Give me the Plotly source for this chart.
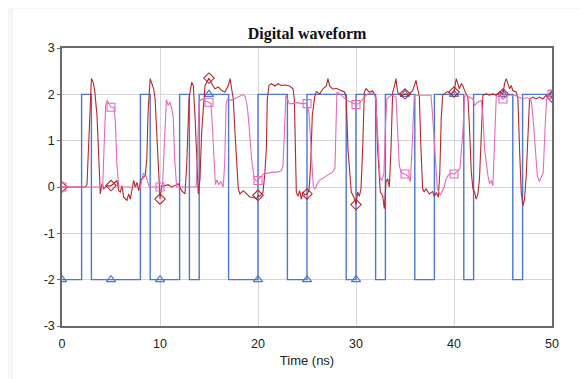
import numpy as np
import plotly.graph_objects as go

# ---------------- data ----------------
# Input digital signal: edge times (ns) and level after each edge
blue_t = [0, 2, 3, 8, 9, 12, 13, 14, 17, 20, 23, 25, 29, 30, 32, 33, 36, 38, 41, 42, 46, 47, 50]
blue_v = [-2, 2, -2, 2, -2, 2, -2, 2, -2, 2, -2, 2, -2, 2, -2, 2, -2, 2, -2, 2, -2, 2, 2]

# Near-end analog waveform (dark red)
red_t = [0, 2.4, 2.55, 2.7, 2.85, 3.0, 3.15, 3.25, 3.33, 3.57, 3.74, 3.91, 4.08, 4.25, 4.59, 4.93,
         5.27, 5.61, 5.78, 5.95, 6.12, 6.29, 6.63, 6.8, 6.97, 7.14, 7.31, 7.48, 7.65, 7.82, 7.99,
         8.16, 8.5, 8.65, 8.8, 9.0, 9.18, 9.35, 9.5, 9.69, 9.86, 10.0, 10.17, 10.51, 10.85, 11.19,
         11.53, 11.87, 12.21, 12.55, 12.72, 12.96, 13.23, 13.4, 13.57, 13.74, 13.91, 14.08, 14.25,
         14.59, 15.0, 15.27, 15.61, 15.95, 16.29, 16.63, 16.8, 16.97, 17.14, 17.31, 17.48, 17.65,
         17.82, 17.99, 18.16, 18.5, 18.84, 19.18, 19.52, 19.86, 20.0, 20.2, 20.51, 20.7, 20.85,
         20.95, 21.12, 21.36, 21.7, 22.04, 22.38, 22.72, 23.23, 23.57, 23.71, 23.81, 23.91, 24.08,
         24.25, 24.42, 24.59, 24.76, 25.0, 25.2, 25.37, 25.54, 25.78, 25.95, 26.29, 26.63, 26.97,
         27.14, 27.31, 27.65, 27.99, 28.5, 28.84, 29.01, 29.18, 29.52, 29.86, 30.0, 30.17, 30.34,
         30.51, 30.68, 30.85, 31.02, 31.36, 31.7, 31.87, 32.04, 32.21, 32.48, 32.72, 32.89, 33.06,
         33.23, 33.4, 33.57, 33.74, 33.91, 34.08, 34.25, 34.59, 35.0, 35.27, 35.78, 36.12, 36.29,
         36.46, 36.63, 36.8, 36.97, 37.14, 37.48, 37.82, 38.0, 38.2, 38.4, 38.55, 38.7, 38.85,
         39.01, 39.35, 39.69, 40.0, 40.23, 40.4, 40.55, 40.75, 40.9, 41.08, 41.25, 41.42, 41.6,
         41.76, 41.93, 42.1, 42.27, 42.44, 42.6, 42.78, 42.95, 43.29, 43.63, 43.97, 44.31, 44.65,
         45.0, 45.16, 45.33, 45.5, 45.67, 45.84, 46.0, 46.35, 46.52, 46.69, 46.86, 47.03, 47.2,
         47.37, 47.54, 47.71, 48.05, 48.39, 48.73, 49.07, 49.4, 49.74, 50.0]
red_v = [0, 0, 0.05, 0.9, 1.9, 2.34, 2.28, 2.15, 2.1, 1.54, 0.61, -0.15, 0.07, -0.04, 0.03, 0.02,
         0.07, 0.14, -0.08, -0.11, 0.03, -0.22, -0.29, -0.15, -0.26, -0.04, 0.14, 0.0, 0.1, -0.08, 0.1,
         0.18, 0.25, 0.6, 1.7, 2.34, 2.23, 2.12, 1.9, 1.18, 0.25, -0.26, 0.03, 0.03, 0.05, 0.0,
         0.03, 0.07, -0.08, -0.15, 0.46, 1.9, 2.26, 2.19, 1.54, 0.46, -0.15, 0.18, 1.18,
         2.19, 2.35, 2.23, 2.12, 2.16, 2.08, 2.05, 2.12, 2.19, 2.34, 2.12, 1.9, 1.18,
         0.46, -0.04, -0.15, -0.08, -0.15, -0.22, -0.22, -0.26, -0.18, -0.2, -0.11, 0.3, 0.82,
         1.9, 2.19, 2.23, 2.18, 2.23, 2.19, 2.2, 2.18, 2.12, 1.9, 0.82, -0.11, -0.2,
         -0.08, -0.26, -0.1, -0.17, -0.15, -0.08, 0.46, 1.54, 1.94, 2.06, 2.01, 2.12, 2.18,
         2.34, 2.18, 2.11, 2.13, 2.08, 2.05, 1.9, 0.82, -0.11, -0.26, -0.38, -0.11, -0.2,
         -0.04, 0.82, 2.05, 2.12, 2.05, 2.08, 2.01, 1.9, 0.82, -0.11, -0.18, -0.47, 0.1,
         0.18, 0.0, 0.82, 2.05, 2.16, 2.34, 2.05, 1.96, 2.01, 1.98, 2.08, 2.3, 2.12,
         1.96, 0.82, -0.04, -0.11, -0.04, -0.15, -0.1, -0.2, -0.12, -0.22, 0.3, 1.5, 1.98,
         2.01, 2.06, 2.01, 2.05, 2.34, 2.19, 2.12, 2.23, 2.19, 2.08, 2.01, 1.93, 1.18,
         0.33, -0.04, -0.11, -0.26, -0.15, 0.18, 1.18, 1.98, 2.01, 1.98, 2.01, 1.98, 2.05,
         2.01, 2.23, 2.34, 2.23, 2.12, 2.19, 2.08, 2.05, 1.9, 0.82, -0.11, -0.4, -0.26,
         0.25, 1.18, 1.9, 1.94, 1.9, 1.94, 1.9, 1.98, 1.9, 1.94]

# Far-end analog waveform (pink)
pink_t = [0, 4.15, 4.3, 4.45, 4.6, 4.8, 5.0, 5.3, 5.45, 5.6, 5.8, 8.0, 8.3, 8.55, 8.9, 10.25, 10.45,
          10.65, 10.85, 11.0, 11.2, 11.35, 11.5, 11.7, 13.7, 13.85, 14.0, 14.3, 14.6, 15.0, 15.2,
          15.35, 15.5, 15.65, 15.8, 16.0, 16.2, 16.45, 16.6, 16.75, 16.9, 17.2, 17.6, 17.9, 18.2,
          18.5, 18.7, 18.9, 19.1, 19.35, 19.6, 19.8, 20.0, 20.2, 20.5, 21.0, 21.5, 22.0, 22.35,
          22.55, 22.7, 22.85, 23.0, 23.2, 23.5, 24.0, 24.5, 25.0, 25.2, 25.35, 25.5, 25.65, 25.8,
          26.0, 26.3, 26.7, 27.2, 27.6, 27.85, 27.95, 28.05, 28.4, 28.7, 29.0, 29.5, 30.0, 30.3,
          30.7, 31.0, 31.3, 31.7, 32.0, 32.15, 32.3, 32.45, 32.65, 32.85, 33.0, 33.15, 33.4,
          33.75, 34.08, 34.25, 34.42, 34.6, 35.0, 35.2, 35.4, 35.55, 35.75, 35.95, 36.3, 36.8,
          37.3, 37.65, 37.82, 38.1, 38.3, 38.6, 39.0, 39.2, 39.4, 39.7, 40.0, 40.25, 40.6, 40.9,
          41.08, 41.25, 41.6, 41.93, 42.1, 42.44, 42.78, 42.95, 43.12, 43.29, 43.46, 43.63, 43.8,
          43.97, 44.14, 44.31, 44.65, 45.0, 45.5, 46.2, 46.6, 47.0, 47.5, 47.9, 48.1, 48.3, 48.5,
          48.7, 48.9, 49.1, 49.3, 49.45, 49.7, 50.0]
pink_v = [0, 0, 0.9, 1.75, 1.87, 1.8, 1.72, 1.72, 1.4, 0.5, 0, 0, 0.3, 0.25, 0, 0, 1.0,
          1.88, 1.76, 1.83, 1.7, 1.5, 0.6, 0, 0, 1.0, 1.85, 1.9, 1.85, 1.83, 1.8,
          1.3, 0.5, 0.05, 0.15, 0.05, 0.12, 0.0, 0.5, 1.8, 1.9, 1.87, 1.9, 1.93, 1.97,
          2.0, 1.95, 1.75, 1.3, 0.6, 0.2, 0.13, 0.14, 0.2, 0.27, 0.3, 0.32, 0.32, 0.35,
          0.45, 1.2, 1.98, 1.9, 1.8, 1.8, 1.82, 1.8, 1.8, 1.6, 1.0, 0.3, 0.0, -0.05,
          0.05, 0.15, 0.2, 0.28, 0.32, 0.4, 1.5, 2.05, 2.0, 1.95, 1.88, 1.83, 1.78, 1.8,
          1.9, 1.97, 2.02, 2.03, 1.95, 1.4, 0.6, 0.2, 0.14, 0.3, 1.3, 1.9, 1.96,
          1.98, 1.94, 1.18, 0.46, 0.32, 0.28, 0.25, 0.2, 0.12, 1.0, 1.98, 1.98, 1.98,
          1.98, 1.98, 1.54, 0.5, -0.04, -0.18, 0.0, 0.18, 0.25, 0.3, 0.28, 0.32, 0.39, 1.18,
          1.94, 1.98, 1.94, 1.9, 1.76, 1.83, 1.87, 1.54, 0.82, 0.46, 0.25, 0.07, 0.14,
          0.03, 1.18, 1.94, 1.98, 1.9, 1.98, 1.98, 1.94, 1.9, 1.93, 1.85, 1.4, 0.7, 0.25,
          0.12, 0.2, 0.3, 1.3, 1.9, 1.95, 2.0]

marker_times = [0, 5, 10, 15, 20, 25, 30, 35, 40, 45, 50]
x_ticks = [0, 10, 20, 30, 40, 50]
y_ticks = [-3, -2, -1, 0, 1, 2, 3]
y_tick_labels = ["-3", "-2", "-1", "0", "1", "2", "3"]

# ---------------- derived marker positions ----------------
bt = np.array(blue_t, dtype=float)
bv = np.array(blue_v, dtype=float)


def blue_level(t):
    # level of the segment ending at t (left-continuous)
    idx = np.searchsorted(bt, t, side="left") - 1
    idx = max(idx, 0)
    return bv[idx]


blue_mk = [blue_level(t) for t in marker_times]
red_mk = list(np.interp(marker_times, red_t, red_v))
pink_mk = list(np.interp(marker_times, pink_t, pink_v))

BLUE = "#4d78cc"
RED = "#b3282d"
PINK = "#e56bb8"

fig = go.Figure()
fig.add_trace(go.Scatter(x=blue_t, y=blue_v, mode="lines", line=dict(color=BLUE, width=1.4, shape="hv"),
                         hoverinfo="skip", showlegend=False))
fig.add_trace(go.Scatter(x=marker_times, y=blue_mk, mode="markers",
                         marker=dict(symbol="triangle-up-open", size=8, color=BLUE, line=dict(width=1.2)),
                         showlegend=False))
fig.add_trace(go.Scatter(x=red_t, y=red_v, mode="lines", line=dict(color=RED, width=1.1),
                         showlegend=False))
fig.add_trace(go.Scatter(x=marker_times, y=red_mk, mode="markers",
                         marker=dict(symbol="diamond-open", size=8, color=RED, line=dict(width=1.1)),
                         showlegend=False))
fig.add_trace(go.Scatter(x=pink_t, y=pink_v, mode="lines", line=dict(color=PINK, width=1.1),
                         showlegend=False))
fig.add_trace(go.Scatter(x=marker_times, y=pink_mk, mode="markers",
                         marker=dict(symbol="square-open", size=8, color=PINK, line=dict(width=1.1)),
                         showlegend=False))

# card background and right-hand grey strip
fig.add_shape(type="rect", xref="paper", yref="paper", x0=-0.102, x1=1.063, y0=-0.35, y1=1.144,
              fillcolor="white", line=dict(width=1, color="#ececec"), layer="below")
fig.add_shape(type="rect", xref="paper", yref="paper", x0=1.065, x1=1.2, y0=-0.35, y1=1.3,
              fillcolor="#e3e3e3", line=dict(width=0), layer="below")

fig.update_layout(
    width=588, height=379,
    margin=dict(l=54, r=44, t=40, b=61),
    paper_bgcolor="#f7f7f7",
    plot_bgcolor="white",
    title=dict(text="<b>Digital waveform</b>", x=0.5085, xref="container", y=0.934, yanchor="middle",
               font=dict(family="Liberation Serif, Times New Roman, serif", size=16, color="#111")),
    font=dict(family="Liberation Sans, Arial, sans-serif", size=12, color="#222"),
)
fig.update_xaxes(range=[0, 50], tickvals=x_ticks, showgrid=True, gridcolor="#d6d6d6", gridwidth=1,
                 zeroline=False, showline=True, mirror=True, linecolor="#6b6b6b", linewidth=1.5,
                 ticks="", ticklabelstandoff=5,
                 title=dict(text="Time (ns)", standoff=6, font=dict(size=13)),
                 tickfont=dict(size=12.5))
fig.update_yaxes(range=[-3, 3], tickvals=y_ticks, ticktext=y_tick_labels, showgrid=True,
                 gridcolor="#d6d6d6", gridwidth=1,
                 zeroline=False, showline=True, mirror=True, linecolor="#6b6b6b", linewidth=1.5,
                 ticks="outside", ticklen=3, tickcolor="#6b6b6b", tickfont=dict(size=12.5))

fig.write_html("out.html")
